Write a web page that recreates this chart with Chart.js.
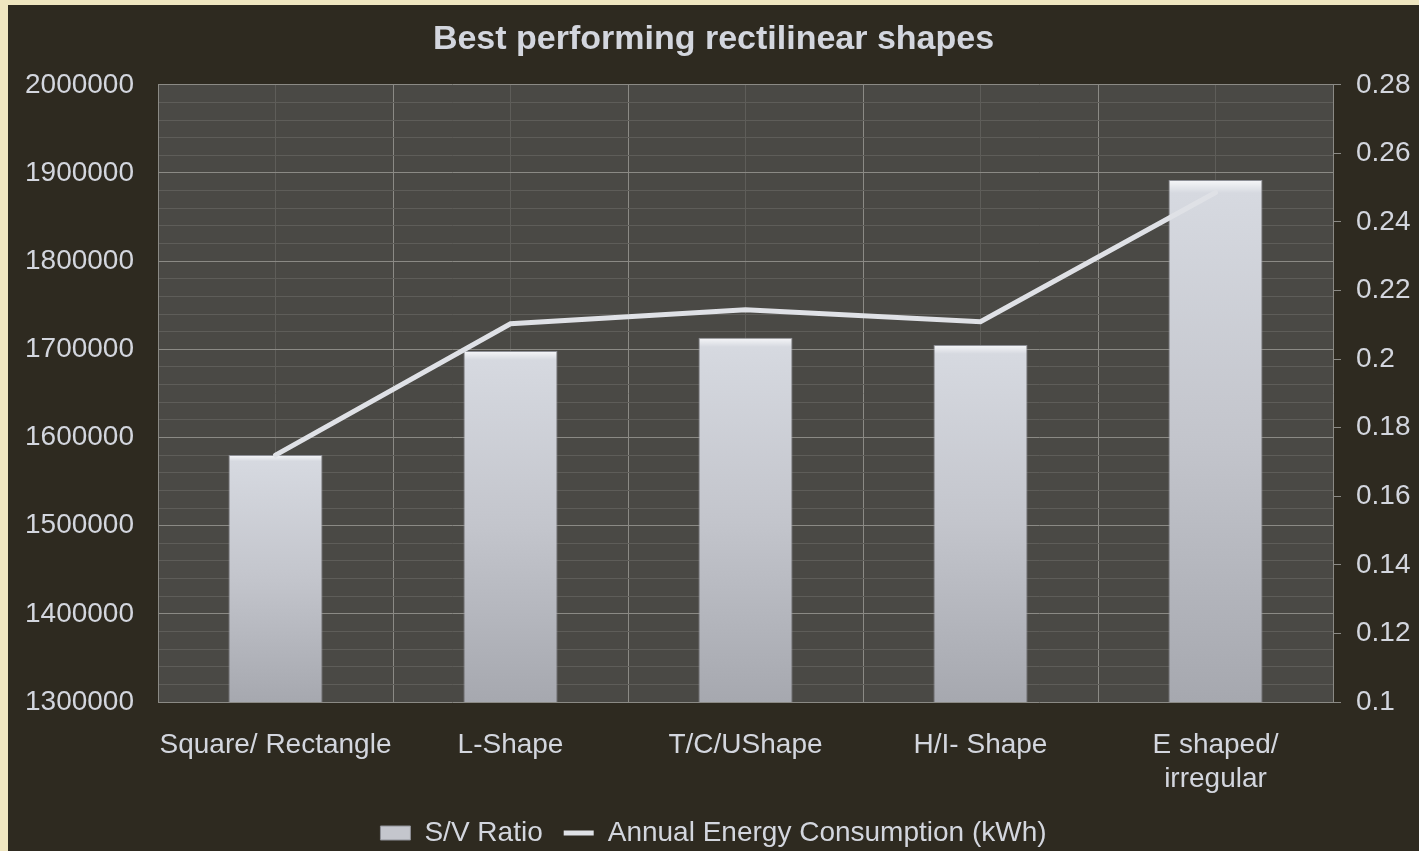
<!DOCTYPE html>
<html>
<head>
<meta charset="utf-8">
<title>Best performing rectilinear shapes</title>
<script src="https://cdn.jsdelivr.net/npm/chart.js@4.4.1/dist/chart.umd.min.js"></script>
<style>
  html, body { margin: 0; padding: 0; overflow: hidden; }
  body { background: #efe6c0; width: 1419px; height: 851px; position: relative; }
  #wrap { position: absolute; left: 8px; top: 5px; width: 1411px; height: 852px; background: #2e2a20; }
</style>
</head>
<body>
<div id="wrap"><canvas id="shapesChart" width="1411" height="852"></canvas></div>
<script>
const categories = ['Square/ Rectangle', 'L-Shape', 'T/C/UShape', 'H/I- Shape', ['E shaped/', 'irregular']];
const svRatio = [1580000, 1698000, 1713000, 1705000, 1892000];
const energyUse = [0.172, 0.2103, 0.2144, 0.2109, 0.2486];
const leftTicks = ['1300000', '1400000', '1500000', '1600000', '1700000', '1800000', '1900000', '2000000'];
const rightTicks = ['0.1', '0.12', '0.14', '0.16', '0.18', '0.2', '0.22', '0.24', '0.26', '0.28'];

const textColor = '#d3d6de';
const majorGrid = '#8b8a85';
const minorGrid = '#5e5d59';
const font = 'Liberation Sans, Arial, sans-serif';

// plot area fill
const plotBg = {
  id: 'plotBg',
  beforeDraw(chart) {
    const a = chart.chartArea;
    const ctx = chart.ctx;
    ctx.save();
    ctx.fillStyle = '#4a4945';
    ctx.fillRect(a.left, a.top, a.right - a.left, a.bottom - a.top);
    ctx.restore();
  }
};

function barFill(c) {
  const chart = c.chart;
  if (!chart.chartArea || c.dataIndex === undefined) return '#c6c8cf';
  const y = chart.scales.y;
  const top = y.getPixelForValue(c.dataset.data[c.dataIndex]);
  const bot = y.getPixelForValue(y.min);
  const g = chart.ctx.createLinearGradient(0, top, 0, bot);
  g.addColorStop(0, '#f6f7f9');
  g.addColorStop(0.025, '#d6d9e0');
  g.addColorStop(0.5, '#c3c5cc');
  g.addColorStop(1, '#a6a8af');
  return g;
}

Chart.defaults.font.family = font;
Chart.defaults.color = textColor;

new Chart(document.getElementById('shapesChart'), {
  type: 'bar',
  data: {
    labels: categories,
    datasets: [
      {
        type: 'line',
        label: 'Annual Energy Consumption (kWh)',
        data: energyUse,
        yAxisID: 'y1',
        borderColor: '#dfe1e6',
        backgroundColor: '#dfe1e6',
        borderWidth: 5,
        borderCapStyle: 'round',
        pointRadius: 0,
        tension: 0,
        order: 0
      },
      {
        label: 'S/V Ratio',
        data: svRatio,
        yAxisID: 'y',
        backgroundColor: barFill,
        borderColor: '#8e9097',
        borderWidth: 1,
        categoryPercentage: 1,
        barPercentage: 0.4,
        order: 1
      }
    ]
  },
  options: {
    responsive: false,
    animation: false,
    layout: { padding: 0 },
    plugins: {
      title: {
        display: true,
        text: 'Best performing rectilinear shapes',
        color: textColor,
        font: { size: 34, weight: 'bold' },
        padding: { top: 14, bottom: 25 }
      },
      legend: {
        position: 'bottom',
        reverse: true,
        labels: {
          color: textColor,
          font: { size: 28 },
          usePointStyle: true,
          pointStyleWidth: 30,
          boxHeight: 14,
          padding: 21,
          generateLabels(chart) {
            const items = Chart.defaults.plugins.legend.labels.generateLabels(chart);
            items.forEach(it => {
              if (it.datasetIndex === 1) {
                it.pointStyle = 'rect';
                it.fillStyle = '#c4c6cd';
                it.strokeStyle = '#8e9097';
                it.lineWidth = 1;
              } else {
                it.pointStyle = 'line';
                it.strokeStyle = '#dfe1e6';
                it.lineWidth = 5;
              }
            });
            return items;
          }
        }
      },
      tooltip: { enabled: false }
    },
    scales: {
      x: {
        offset: true,
        grid: { offset: true, color: majorGrid, lineWidth: 1, tickLength: 0 },
        border: { display: false },
        ticks: { font: { size: 28, lineHeight: 1.22 }, color: textColor, padding: 26, maxRotation: 0, autoSkip: false },
        afterFit: s => { s.height = 96; }
      },
      x2: {
        type: 'category',
        position: 'bottom',
        offset: true,
        grid: { offset: false, color: minorGrid, lineWidth: 1, tickLength: 0 },
        border: { display: false },
        ticks: { display: false },
        afterFit: s => { s.height = 0; }
      },
      y: {
        position: 'left',
        min: 1300000,
        max: 2000000,
        grid: {
          color: c => (c.tick && c.tick.value % 100000 === 0 ? majorGrid : minorGrid),
          lineWidth: 1,
          tickLength: 0
        },
        border: { color: majorGrid },
        ticks: {
          stepSize: 20000,
          maxTicksLimit: 100,
          autoSkip: false,
          padding: 24,
          font: { size: 28 },
          color: textColor,
          callback: v => (leftTicks.includes(String(v)) ? String(v) : '')
        },
        afterFit: s => { s.width = 150; }
      },
      y1: {
        position: 'right',
        min: 0.1,
        max: 0.28,
        grid: { drawOnChartArea: false, color: majorGrid, tickLength: 8 },
        border: { color: majorGrid },
        ticks: {
          stepSize: 0.02,
          padding: 15,
          font: { size: 28 },
          color: textColor,
          callback: v => rightTicks.find(t => Math.abs(Number(t) - v) < 1e-6) || ''
        },
        afterFit: s => { s.width = 86; }
      }
    }
  },
  plugins: [plotBg]
});
</script>
</body>
</html>
